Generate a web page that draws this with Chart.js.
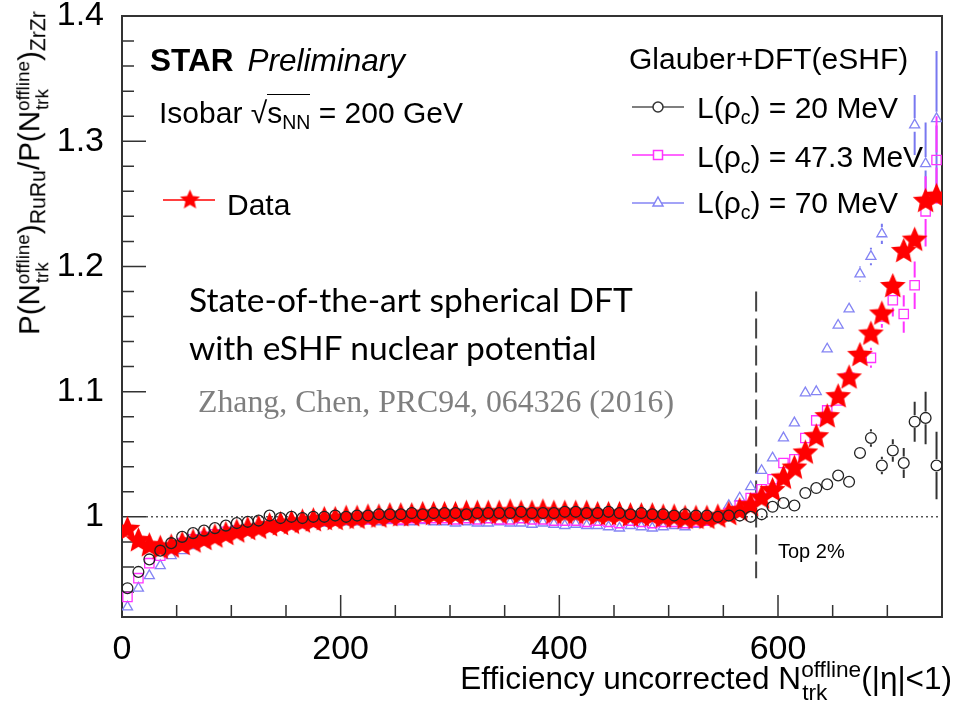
<!DOCTYPE html>
<html>
<head>
<meta charset="utf-8">
<script src="https://cdn.jsdelivr.net/npm/chart.js@4.4.7/dist/chart.umd.js"></script>
<style>
  body { margin: 0; background: #fff; }
  #wrap { position: relative; width: 956px; height: 708px; overflow: hidden; }
  #wrap canvas { position: absolute; left: 0; top: 0; }
  .t { position: absolute; font-family: "Liberation Sans", Arial, sans-serif; color: #000; white-space: nowrap; line-height: 1; }
  .ss { display: inline-block; position: relative; font-size: 0.64em; }
  .ss .hi { position: relative; top: -0.55em; }
  .ss .lo { position: absolute; left: 0.05em; top: 0.5em; }
  .lo1 { font-size: 0.65em; position: relative; top: 0.3em; }
  #ytitle .lo1 { font-size: 0.72em; }
  .ov { border-top: 1.5px solid #000; padding-top: 1px; }
</style>
</head>
<body>
<div id="wrap">
  <canvas id="ratio" width="956" height="708"></canvas>

  <div class="t" id="ytitle" style="font-size:29.5px;left:29px;top:173px;transform:translate(-50%,-50%) rotate(-90deg);">P(N<span class="ss"><span class="hi">offline</span><span class="lo">trk</span></span>)<span class="lo1">RuRu</span>/P(N<span class="ss"><span class="hi">offline</span><span class="lo">trk</span></span>)<span class="lo1">ZrZr</span></div>

  <div class="t" style="font-size:31.5px;right:4px;top:663px;">Efficiency uncorrected N<span class="ss" style="font-size:0.72em"><span class="hi">offline</span><span class="lo">trk</span></span>(|η|&lt;1)</div>

  <div class="t" style="font-size:31.5px;left:150px;top:45px;"><b>STAR</b><i style="margin-left:14px">Preliminary</i></div>
  <div class="t" style="font-size:30px;left:159px;top:98px;">Isobar √<span class="ov">s<span class="lo1">NN</span></span> = 200 GeV</div>
  <div class="t" style="font-size:30px;left:227px;top:190px;">Data</div>

  <div class="t" style="font-size:30px;left:629px;top:44px;">Glauber+DFT(eSHF)</div>
  <div class="t" style="font-size:30px;left:697px;top:93px;">L(ρ<span class="lo1">c</span>) = 20 MeV</div>
  <div class="t" style="font-size:30px;left:697px;top:142px;">L(ρ<span class="lo1">c</span>) = 47.3 MeV</div>
  <div class="t" style="font-size:30px;left:697px;top:188px;">L(ρ<span class="lo1">c</span>) = 70 MeV</div>

  <div class="t" style="font-family:Lato, 'Open Sans', sans-serif;font-size:33.5px;left:189px;top:283px;">State-of-the-art spherical DFT</div>
  <div class="t" style="font-family:Lato, 'Open Sans', sans-serif;font-size:33.5px;left:189px;top:331px;">with eSHF nuclear potential</div>
  <div class="t" style="font-family:'Liberation Serif', 'DejaVu Serif', serif;font-size:31.8px;color:#7f7f7f;left:198px;top:386px;">Zhang, Chen, PRC94, 064326 (2016)</div>

  <div class="t" style="font-size:20px;left:778px;top:541px;">Top 2%</div>
</div>

<script>
// bin centres of N_trk^offline
const nTrk = [
  5, 15, 25, 35, 45, 55, 65, 75, 85, 95,
  105, 115, 125, 135, 145, 155, 165, 175, 185, 195,
  205, 215, 225, 235, 245, 255, 265, 275, 285, 295,
  305, 315, 325, 335, 345, 355, 365, 375, 385, 395,
  405, 415, 425, 435, 445, 455, 465, 475, 485, 495,
  505, 515, 525, 535, 545, 555, 565, 575, 585, 595,
  605, 615, 625, 635, 645, 655, 665, 675, 685, 695,
  705, 715, 725, 735, 745
];

// measured RuRu/ZrZr ratio
const dataRatio = [
  0.990, 0.981, 0.977, 0.975, 0.976, 0.978, 0.980, 0.982, 0.984, 0.986,
  0.988, 0.990, 0.991, 0.993, 0.994, 0.995, 0.996, 0.997, 0.998, 0.998,
  0.999, 0.999, 1.000, 1.000, 1.001, 1.001, 1.001, 1.002, 1.002, 1.002,
  1.002, 1.003, 1.003, 1.003, 1.003, 1.004, 1.003, 1.003, 1.004, 1.003,
  1.003, 1.003, 1.003, 1.002, 1.002, 1.002, 1.001, 1.001, 1.001, 1.000,
  1.000, 0.999, 0.999, 0.999, 1.000, 1.002, 1.005, 1.009, 1.015, 1.021,
  1.031, 1.039, 1.051, 1.064, 1.080, 1.096, 1.111, 1.129, 1.146, 1.162,
  1.184, 1.212, 1.221, 1.252, 1.256
];

// Glauber+DFT(eSHF), L(rho_c) = 20 MeV
const modelL20 = [
  0.943, 0.956, 0.966, 0.973, 0.979, 0.984, 0.987, 0.989, 0.991, 0.993,
  0.995, 0.996, 0.997, 1.001, 0.999, 1.000, 0.999, 1.000, 1.000, 1.001,
  1.000, 1.001, 1.001, 1.002, 1.002, 1.002, 1.003, 1.002, 1.003, 1.003,
  1.003, 1.002, 1.003, 1.003, 1.003, 1.003, 1.004, 1.003, 1.003, 1.003,
  1.004, 1.004, 1.003, 1.003, 1.004, 1.003, 1.002, 1.003, 1.002, 1.002,
  1.001, 1.002, 1.001, 1.001, 1.000, 1.001, 1.001, 1.000, 1.002, 1.008,
  1.011, 1.009, 1.019, 1.023, 1.026, 1.033, 1.028, 1.051, 1.063, 1.041,
  1.053, 1.043, 1.076, 1.079, 1.041
];

// L(rho_c) = 47.3 MeV
const modelL47 = [
  0.936, 0.951, 0.963, 0.969, 0.975, 0.979, 0.982, 0.984, 0.986, 0.988,
  0.989, 0.990, 0.991, 0.992, 0.993, 0.994, 0.995, 0.996, 0.997, 0.997,
  0.998, 0.998, 0.998, 0.999, 0.999, 0.998, 0.999, 0.999, 0.999, 0.999,
  0.998, 0.999, 0.998, 0.999, 0.998, 0.998, 0.999, 0.998, 0.998, 0.997,
  0.997, 0.997, 0.996, 0.997, 0.996, 0.995, 0.997, 0.996, 0.995, 0.996,
  0.996, 0.995, 0.996, 0.997, 0.999, 1.003, 1.009, 1.015, 1.022, 1.030,
  1.043, 1.046, 1.063, 1.077, 1.085, 1.093, 1.111, 1.128, 1.127, 1.160,
  1.173, 1.162, 1.185, 1.244, 1.285
];

// L(rho_c) = 70 MeV (no points drawn at 705 and 715)
const modelL70 = [
  0.928, 0.943, 0.953, 0.961, 0.969, 0.973, 0.977, 0.980, 0.983, 0.985,
  0.987, 0.988, 0.990, 0.991, 0.992, 0.993, 0.994, 0.995, 0.995, 0.996,
  0.996, 0.996, 0.997, 0.996, 0.997, 0.996, 0.996, 0.997, 0.996, 0.996,
  0.995, 0.996, 0.995, 0.995, 0.996, 0.995, 0.995, 0.994, 0.995, 0.994,
  0.993, 0.994, 0.993, 0.993, 0.992, 0.991, 0.993, 0.992, 0.991, 0.992,
  0.993, 0.992, 0.994, 0.996, 1.001, 1.009, 1.015, 1.024, 1.037, 1.047,
  1.063, 1.075, 1.099, 1.100, 1.134, 1.153, 1.166, 1.194, 1.208, 1.226,
  null, null, 1.313, 1.282, 1.318
];

// statistical errors of the model curves in the last bins
const errBins = [645, 655, 665, 675, 685, 695, 705, 715, 725, 735, 745];
const errL20 = [0.003, 0.004, 0.004, 0.005, 0.007, 0.007, 0.009, 0.012, 0.016, 0.021, 0.027];
const errL47 = [0.003, 0.004, 0.004, 0.006, 0.008, 0.009, 0.013, 0.015, 0.019, 0.028, 0.035];
const errL70 = [0.003, 0.004, 0.005, 0.006, 0.007, 0.008, 0, 0, 0.024, 0.033, 0.054];

// axis ranges and the top-2% centrality cut
const xRange = [0, 750];
const yRange = [0.92, 1.4];
const cutX = 580;
const cutY = [0.951, 1.18];

const FONT = '"Liberation Sans", Arial, sans-serif';

function points(values) {
  return nTrk.map((x, i) => ({ x: x, y: values[i] }));
}

function errorsFor(errs) {
  return nTrk.map(x => {
    const k = errBins.indexOf(x);
    return k < 0 ? 0 : errs[k];
  });
}

// filled five-pointed star marker
function starMarker(rOut, rIn, color) {
  const c = document.createElement('canvas');
  const size = Math.ceil(rOut * 2 + 2);
  c.width = c.height = size;
  const g = c.getContext('2d');
  g.fillStyle = color;
  g.beginPath();
  for (let i = 0; i < 10; i++) {
    const r = i % 2 ? rIn : rOut;
    const a = -Math.PI / 2 + i * Math.PI / 5;
    g.lineTo(size / 2 + r * Math.cos(a), size / 2 + r * Math.sin(a));
  }
  g.closePath();
  g.fill();
  return c;
}

const star = starMarker(13.5, 6.2, '#ff0000');
const starSmall = starMarker(10.5, 4.8, '#ff0000');

// vertical error bars, drawn just under each dataset's markers
const errorBars = {
  id: 'errorBars',
  beforeDatasetDraw(chart, args) {
    const ds = chart.data.datasets[args.index];
    if (!ds.errors) return;
    const ctx = chart.ctx;
    const xs = chart.scales.x, ys = chart.scales.y;
    ctx.save();
    ctx.strokeStyle = ds.errorColor;
    ctx.lineWidth = 2;
    ds.data.forEach((p, i) => {
      const e = ds.errors[i];
      if (p.y == null || !e) return;
      const px = xs.getPixelForValue(p.x);
      const py = ys.getPixelForValue(p.y);
      const top = ys.getPixelForValue(p.y + e);
      const bot = ys.getPixelForValue(p.y - e);
      const gap = ds.pointRadius + 1;
      ctx.beginPath();
      if (py - gap > top) { ctx.moveTo(px, top); ctx.lineTo(px, py - gap); }
      if (py + gap < bot) { ctx.moveTo(px, py + gap); ctx.lineTo(px, bot); }
      ctx.stroke();
    });
    ctx.restore();
  }
};

// frame, inward ticks, reference line at 1 and the cut line
const frame = {
  id: 'frame',
  beforeDatasetsDraw(chart) {
    const { ctx, chartArea: a } = chart;
    const xs = chart.scales.x, ys = chart.scales.y;
    ctx.save();

    // dotted line at ratio 1
    ctx.strokeStyle = '#555';
    ctx.lineWidth = 1.5;
    ctx.setLineDash([2, 3]);
    const y1 = ys.getPixelForValue(1);
    ctx.beginPath();
    ctx.moveTo(a.left + 24, y1);
    ctx.lineTo(a.right, y1);
    ctx.stroke();

    // dashed top-2% boundary
    ctx.strokeStyle = '#444';
    ctx.lineWidth = 2;
    ctx.setLineDash([20, 7]);
    const xc = xs.getPixelForValue(cutX);
    ctx.beginPath();
    ctx.moveTo(xc, ys.getPixelForValue(cutY[1]));
    ctx.lineTo(xc, ys.getPixelForValue(cutY[0]));
    ctx.stroke();
    ctx.setLineDash([]);

    // ticks pointing into the frame
    ctx.strokeStyle = '#333';
    ctx.lineWidth = 1.5;
    ctx.beginPath();
    ys.ticks.forEach(t => {
      const major = Math.abs(t.value * 10 - Math.round(t.value * 10)) < 1e-6;
      const py = ys.getPixelForValue(t.value);
      ctx.moveTo(a.left, py);
      ctx.lineTo(a.left + (major ? 24 : 12), py);
    });
    xs.ticks.forEach(t => {
      const major = t.value % 200 === 0;
      const px = xs.getPixelForValue(t.value);
      ctx.moveTo(px, a.bottom);
      ctx.lineTo(px, a.bottom - (major ? 22 : 12));
    });
    ctx.stroke();

    ctx.lineWidth = 2;
    ctx.strokeRect(a.left, a.top, a.right - a.left, a.bottom - a.top);
    ctx.restore();
  },

  // legend markers and lines
  afterDraw(chart) {
    const ctx = chart.ctx;
    ctx.save();
    ctx.lineWidth = 1.5;

    ctx.strokeStyle = '#ff0000';
    ctx.beginPath(); ctx.moveTo(163, 200); ctx.lineTo(215, 200); ctx.stroke();
    ctx.drawImage(starSmall, 190 - starSmall.width / 2, 200 - starSmall.height / 2);

    ctx.strokeStyle = '#555';
    ctx.beginPath(); ctx.moveTo(632, 107); ctx.lineTo(684, 107); ctx.stroke();
    ctx.fillStyle = '#fff';
    ctx.strokeStyle = '#333';
    ctx.beginPath(); ctx.arc(658, 107, 5, 0, Math.PI * 2); ctx.fill(); ctx.stroke();

    ctx.strokeStyle = '#ff33ff';
    ctx.beginPath(); ctx.moveTo(632, 155); ctx.lineTo(684, 155); ctx.stroke();
    ctx.fillRect(653.5, 150.5, 9, 9);
    ctx.strokeRect(653.5, 150.5, 9, 9);

    ctx.strokeStyle = '#8484f4';
    ctx.beginPath(); ctx.moveTo(632, 203); ctx.lineTo(684, 203); ctx.stroke();
    ctx.beginPath();
    ctx.moveTo(658, 197); ctx.lineTo(663, 206); ctx.lineTo(653, 206); ctx.closePath();
    ctx.fill(); ctx.stroke();
    ctx.restore();
  }
};

new Chart(document.getElementById('ratio'), {
  type: 'scatter',
  data: {
    datasets: [
      {
        label: 'L(ρc) = 20 MeV',
        data: points(modelL20),
        errors: errorsFor(errL20),
        errorColor: '#333',
        order: 0,
        pointStyle: 'circle',
        pointRadius: 5.4,
        pointBorderWidth: 1.3,
        pointBorderColor: '#222',
        pointBackgroundColor: 'rgba(0,0,0,0)'
      },
      {
        label: 'Data',
        data: points(dataRatio),
        order: 1,
        pointStyle: star,
        pointRadius: 13
      },
      {
        label: 'L(ρc) = 47.3 MeV',
        data: points(modelL47),
        errors: errorsFor(errL47),
        errorColor: '#ff33ff',
        order: 2,
        pointStyle: 'rect',
        pointRadius: 6.6,
        pointBorderWidth: 1.3,
        pointBorderColor: '#ff33ff',
        pointBackgroundColor: 'rgba(0,0,0,0)'
      },
      {
        label: 'L(ρc) = 70 MeV',
        data: points(modelL70),
        errors: errorsFor(errL70),
        errorColor: '#7878f0',
        order: 3,
        pointStyle: 'triangle',
        pointRadius: 5.8,
        pointBorderWidth: 1.3,
        pointBorderColor: '#8484f4',
        pointBackgroundColor: 'rgba(0,0,0,0)'
      }
    ]
  },
  options: {
    responsive: false,
    animation: false,
    devicePixelRatio: 1,
    events: [],
    layout: { padding: { top: 16, right: 1, left: 0, bottom: 0 } },
    plugins: { legend: { display: false }, tooltip: { enabled: false } },
    elements: { point: { hoverRadius: 0 } },
    scales: {
      x: {
        type: 'linear',
        min: xRange[0],
        max: xRange[1],
        grid: { display: false },
        border: { display: false },
        ticks: {
          stepSize: 50,
          autoSkip: false,
          maxRotation: 0,
          padding: 4,
          color: '#000',
          font: { family: FONT, size: 34 },
          callback: v => (v % 200 === 0 ? String(v) : '')
        },
        afterFit: s => { s.height = 91; s.paddingLeft = 0; s.paddingRight = 0; }
      },
      y: {
        type: 'linear',
        min: yRange[0],
        max: yRange[1],
        grid: { display: false },
        border: { display: false },
        ticks: {
          stepSize: 0.02,
          autoSkip: false,
          padding: 10,
          color: '#000',
          font: { family: FONT, size: 34 },
          callback: v => {
            const r = Math.round(v * 10) / 10;
            return Math.abs(v - r) < 1e-6 && r >= 1 ? String(r) : '';
          }
        },
        afterFit: s => { s.width = 122; s.paddingTop = 0; s.paddingBottom = 0; }
      }
    }
  },
  plugins: [errorBars, frame]
});
</script>
</body>
</html>
